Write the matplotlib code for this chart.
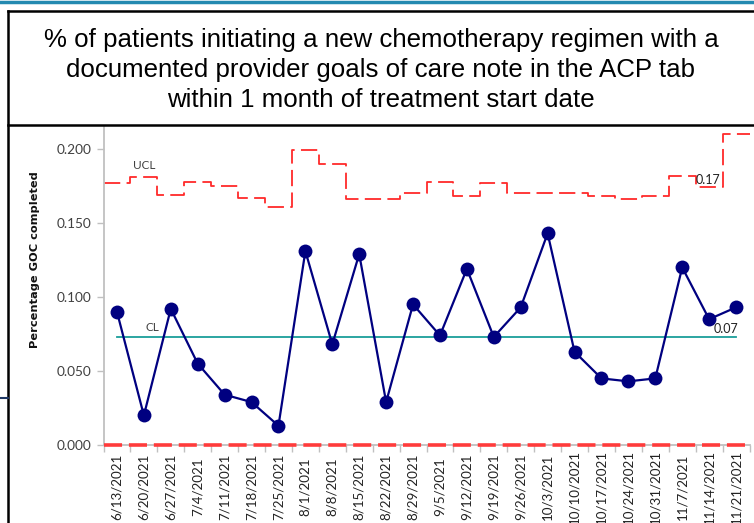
import matplotlib
matplotlib.use("Agg")
import matplotlib.pyplot as plt
from matplotlib.lines import Line2D
import numpy as np

dates = ["6/13/2021", "6/20/2021", "6/27/2021", "7/4/2021", "7/11/2021", "7/18/2021",
         "7/25/2021", "8/1/2021", "8/8/2021", "8/15/2021", "8/22/2021", "8/29/2021",
         "9/5/2021", "9/12/2021", "9/19/2021", "9/26/2021", "10/3/2021", "10/10/2021",
         "10/17/2021", "10/24/2021", "10/31/2021", "11/7/2021", "11/14/2021", "11/21/2021"]
pct_goc = [0.090, 0.020, 0.092, 0.055, 0.034, 0.029, 0.013, 0.131, 0.068, 0.129,
           0.029, 0.095, 0.074, 0.119, 0.073, 0.093, 0.143, 0.063, 0.045, 0.043,
           0.045, 0.120, 0.085, 0.093]
ucl = [0.177, 0.181, 0.169, 0.178, 0.175, 0.167, 0.161, 0.199, 0.190, 0.166,
       0.166, 0.170, 0.178, 0.168, 0.177, 0.170, 0.170, 0.170, 0.168, 0.166,
       0.168, 0.182, 0.174, 0.210]
lcl = [0.0] * 24
cl = 0.0727
yticks = [0.0, 0.05, 0.10, 0.15, 0.20]
title_lines = ["% of patients initiating a new chemotherapy regimen with a",
               "documented provider goals of care note in the ACP tab",
               "within 1 month of treatment start date"]

W, H = 754, 523
fig = plt.figure(figsize=(W / 100, H / 100), dpi=100)

ax_l, ax_r, ax_bot, ax_top = 103.5, 749.5, 445, 126.8
ax = fig.add_axes([ax_l / W, (H - ax_bot) / H, (ax_r - ax_l) / W, (ax_bot - ax_top) / H])

n = len(dates)
x = np.arange(n)
ax.set_xlim(-0.5, n - 0.5)
ax.set_ylim(0, 0.215)

ucl_x = np.concatenate([[i - 0.5, i + 0.5] for i in range(n)])
ax.plot(ucl_x, np.repeat(ucl, 2), color="#ff2a2a", lw=1.3, dashes=(9, 3.5), zorder=2)
ax.plot(ucl_x, np.repeat(lcl, 2), color="#ff3b3b", lw=2.6, dashes=(5, 1.9), zorder=5, clip_on=False)
ax.plot([x[0], x[-1]], [cl, cl], color="#1a9e9a", lw=1.3, zorder=3)
ax.plot(x, pct_goc, color="#000080", lw=1.6, marker="o", ms=10, markeredgewidth=0,
        markerfacecolor="#000080", zorder=4)

txt_c = "#404040"
ax.text(0.6, ucl[1] + 0.004, "UCL", fontsize=8.5, color=txt_c, ha="left", va="bottom", family="Lato")
ax.text(1.05, cl + 0.003, "CL", fontsize=8.5, color=txt_c, ha="left", va="bottom", family="Lato")
ax.text(21.5, ucl[22] + 0.001, "0.17", fontsize=9, color="#222222", ha="left", va="bottom", family="Lato")
ax.text(23.1, cl + 0.0015, "0.07", fontsize=9, color="#222222", ha="right", va="bottom", family="Lato")

for s in ["top", "right"]:
    ax.spines[s].set_visible(False)
for s in ["left", "bottom"]:
    ax.spines[s].set_color("#c0c0c0")
    ax.spines[s].set_linewidth(1.3)

ax.set_yticks(yticks)
ax.set_yticklabels([f"{v:.3f}" for v in yticks], fontsize=9.8, color=txt_c, family="Lato")
ax.tick_params(axis="y", direction="out", length=5, color="#c0c0c0", width=1, pad=4)

ax.set_xticks(x)
ax.set_xticklabels(dates, rotation=90, fontsize=9.6, color="#222222", family="Lato")
ax.tick_params(axis="x", which="major", length=0, pad=30)
for lab in ax.get_xticklabels():
    lab.set_va("center")
ax.set_xticks(np.arange(n + 1) - 0.5, minor=True)
ax.tick_params(axis="x", which="minor", direction="out", length=5, color="#c0c0c0", width=1)

ax.set_ylabel("Percentage GOC completed", fontsize=8.2, fontweight="bold", color="#111111",
              family="DejaVu Sans")
ax.yaxis.set_label_coords((40 - ax_l) / (ax_r - ax_l), (ax_bot - 260) / (ax_bot - ax_top))

for i, line in enumerate(title_lines):
    fig.text(381 / W, 1 - (40 + 30 * i) / H, line, ha="center", va="center", fontsize=18.6,
             family="Liberation Sans", color="black")

def fline(x0, y0, x1, y1, **kw):
    fig.add_artist(Line2D([x0 / W, x1 / W], [1 - y0 / H, 1 - y1 / H], transform=fig.transFigure, **kw))

fline(0, 2, W, 2, color="#2389b0", lw=2.5)
fline(8, 11, W, 11, color="black", lw=1.8)
fline(8, 125, W, 125, color="black", lw=1.8)
fline(8, 11, 8, H, color="black", lw=1.8)
fline(0, 398, 8, 398, color="#1f3864", lw=1.5)

fig.savefig("out.png", dpi=100)
